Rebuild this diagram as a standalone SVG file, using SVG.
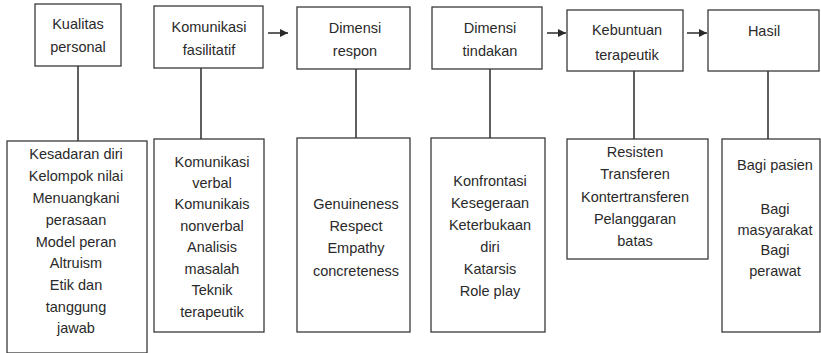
<svg xmlns="http://www.w3.org/2000/svg" width="821" height="353" viewBox="0 0 821 353">
<defs>
<style>
rect{fill:#fff;stroke:#3a3a3a;stroke-width:1.3}
line{stroke:#2a2a2a;stroke-width:1.5}
text{font-family:"Liberation Sans",Arial,sans-serif;font-size:14.5px;fill:#2a2a2a;text-anchor:middle}
</style>
<marker id="ah" markerWidth="10" markerHeight="10" refX="8" refY="5" orient="auto" markerUnits="userSpaceOnUse">
<path d="M0,1 L8,5 L0,9 Z" fill="#2a2a2a"/>
</marker>
</defs>
<rect width="821" height="353" fill="#fff" style="stroke:none"/>
<g id="connectors">
<line x1="78" y1="66" x2="78" y2="141"/>
<line x1="201" y1="68" x2="201" y2="139"/>
<line x1="356" y1="69" x2="356" y2="138"/>
<line x1="490" y1="69" x2="490" y2="138"/>
<line x1="634" y1="71" x2="634" y2="139"/>
<line x1="768" y1="71" x2="768" y2="139"/>
<line x1="268" y1="33" x2="288" y2="33" marker-end="url(#ah)"/>
<line x1="547" y1="33" x2="566" y2="33" marker-end="url(#ah)"/>
<line x1="687" y1="33" x2="707" y2="33" marker-end="url(#ah)"/>
</g>
<g id="n1">
<rect x="35" y="4" width="86" height="62"/>
<text x="78" y="29">Kualitas</text>
<text x="78" y="52">personal</text>
</g>
<g id="n2">
<rect x="154" y="6" width="109" height="62"/>
<text x="209" y="32">Komunikasi</text>
<text x="209" y="55">fasilitatif</text>
</g>
<g id="n3">
<rect x="297" y="7" width="113" height="62"/>
<text x="355" y="33">Dimensi</text>
<text x="355" y="56">respon</text>
</g>
<g id="n4">
<rect x="432" y="7" width="110" height="62"/>
<text x="490" y="33">Dimensi</text>
<text x="490" y="56">tindakan</text>
</g>
<g id="n5">
<rect x="567" y="10" width="116" height="61"/>
<text x="627" y="35">Kebuntuan</text>
<text x="627" y="60">terapeutik</text>
</g>
<g id="n6">
<rect x="708" y="10" width="111" height="61"/>
<text x="764" y="36">Hasil</text>
</g>
<g id="d1">
<rect x="7" y="141" width="140" height="212"/>
<text x="76" y="159">Kesadaran diri</text>
<text x="76" y="181">Kelompok nilai</text>
<text x="76" y="203">Menuangkani</text>
<text x="76" y="225">perasaan</text>
<text x="76" y="247">Model peran</text>
<text x="76" y="268">Altruism</text>
<text x="76" y="290">Etik dan</text>
<text x="76" y="312">tanggung</text>
<text x="76" y="333">jawab</text>
</g>
<g id="d2">
<rect x="154" y="139" width="110" height="193"/>
<text x="212" y="167">Komunikasi</text>
<text x="212" y="188">verbal</text>
<text x="212" y="209">Komunikais</text>
<text x="212" y="231">nonverbal</text>
<text x="212" y="252">Analisis</text>
<text x="212" y="274">masalah</text>
<text x="212" y="295">Teknik</text>
<text x="212" y="317">terapeutik</text>
</g>
<g id="d3">
<rect x="297" y="138" width="113" height="194"/>
<text x="356" y="209">Genuineness</text>
<text x="356" y="231">Respect</text>
<text x="356" y="253">Empathy</text>
<text x="356" y="276">concreteness</text>
</g>
<g id="d4">
<rect x="431" y="138" width="114" height="194"/>
<text x="490" y="186">Konfrontasi</text>
<text x="490" y="208">Kesegeraan</text>
<text x="490" y="230">Keterbukaan</text>
<text x="490" y="252">diri</text>
<text x="490" y="274">Katarsis</text>
<text x="490" y="296">Role play</text>
</g>
<g id="d5">
<rect x="567" y="139" width="141" height="120"/>
<text x="635" y="157">Resisten</text>
<text x="635" y="179">Transferen</text>
<text x="635" y="202">Kontertransferen</text>
<text x="635" y="224">Pelanggaran</text>
<text x="635" y="246">batas</text>
</g>
<g id="d6">
<rect x="722" y="139" width="98" height="193"/>
<text x="775" y="170">Bagi pasien</text>
<text x="775" y="214">Bagi</text>
<text x="775" y="235">masyarakat</text>
<text x="775" y="255">Bagi</text>
<text x="775" y="276">perawat</text>
</g>
</svg>
